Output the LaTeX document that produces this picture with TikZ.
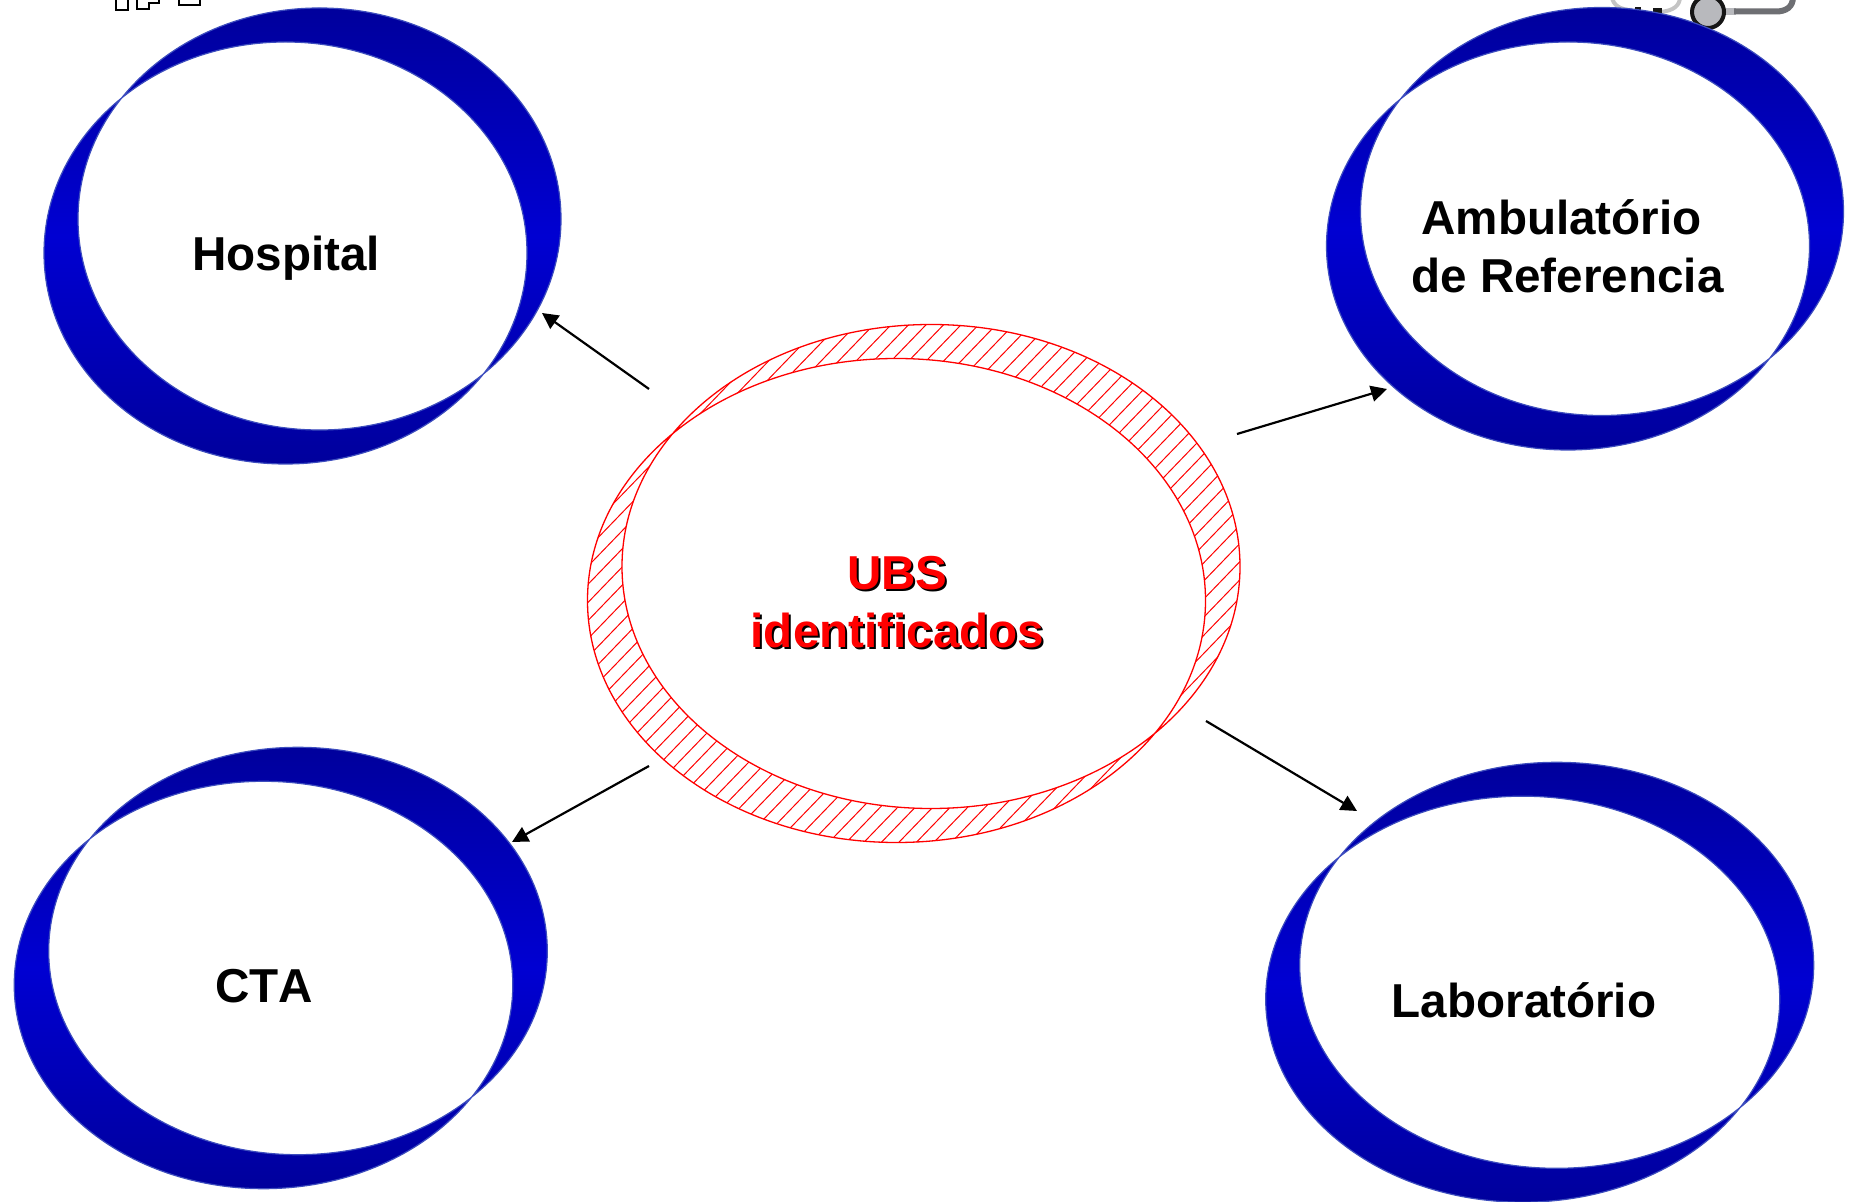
\documentclass[tikz,border=0pt]{standalone}
\usepackage{fontspec}
\setmainfont[Kerning=Off]{Liberation Sans}
\usetikzlibrary{arrows.meta}
\definecolor{ringdark}{HTML}{00009C}
\definecolor{ringmid}{HTML}{0000D2}
\definecolor{ringedge}{HTML}{3D4DBE}
\definecolor{stethgrey}{HTML}{B8B9BD}
\definecolor{tubegrey}{HTML}{6E6F73}
\definecolor{lightgrey}{HTML}{C4C4C4}
\definecolor{stethblack}{HTML}{161616}
\tikzset{
  label text/.style={font=\bfseries\fontsize{23.8pt}{29pt}\selectfont, text=black, anchor=base, inner sep=0pt, align=center},
  ubs text/.style={label text, text=red},
  ubs shadow/.style={label text, text=black},
  link/.style={draw=black, line width=1.1pt, -{Triangle[length=8pt,width=8pt]}},
  ring edge/.style={draw=ringedge, line width=0.6pt},
  ring fill/.style={top color=ringdark, bottom color=ringdark, middle color=ringmid, even odd rule, shading angle=0},
  hatch line/.style={draw=red, line width=0.5pt},
  hatch edge/.style={draw=red, line width=0.65pt},
  frag/.style={draw=black, line width=1pt, fill=white}
}
\newcommand{\bluering}[6]{%
  \shade[ring fill] (#1,#2) ellipse [x radius=#5, y radius=#6] (#3,#4) ellipse [x radius=#5, y radius=#6];
  \draw[ring edge] (#1,#2) ellipse [x radius=#5, y radius=#6] (#3,#4) ellipse [x radius=#5, y radius=#6];
}
\begin{document}
\begin{tikzpicture}[x=0.5pt,y=-0.5pt]
\useasboundingbox (0,0) rectangle (1853,1202);
\clip (0,0) rectangle (1853,1202);
% fragments at the top edge
\draw[frag] (116,-3) -- (116,10) -- (128,10) -- (128,-3);
\draw[frag] (137,-3) -- (137,9) -- (148.5,9) -- (148.5,3) -- (159,3) -- (159,-3);
\draw[frag] (179,-3) -- (179,5) -- (200,5) -- (200,-3);
% stethoscope fragment
\draw[lightgrey, line width=2pt] (1612,-3) .. controls (1613,5) and (1620,10) .. (1632,10);
\draw[lightgrey, line width=2pt] (1680,-3) .. controls (1680,5) and (1674,11) .. (1660,12);
\fill[stethblack] (1635,7) rectangle (1641,12);
\fill[stethblack] (1653,8) rectangle (1662,14);
\fill[stethgrey] (1725,8) rectangle (1736,15);
\draw[tubegrey, line width=3pt] (1734,11.5) -- (1776,11.5) .. controls (1786,11.5) and (1793,7) .. (1793,-3);
\draw[stethblack, line width=2pt, fill=stethgrey] (1708,12) circle (16);
% rings
\bluering{319.5}{219}{285.5}{253}{241.5}{211}
\bluering{1602}{211.5}{1568}{246}{241.5}{204}
\bluering{298}{951}{263.5}{985}{249.3}{203.7}
\bluering{1556.7}{965.3}{1522.7}{999.2}{257}{203}
% hatched centre ring
\begin{scope}
  \clip (931,566.5) ellipse [x radius=309, y radius=242];
  \foreach \k in {0,...,90} {
    \draw[hatch line] ({250+\k*17.5-280},{590+290}) -- ({250+\k*17.5+280},{590-290});
  }
\end{scope}
\begin{scope}
  \clip (896.5,600.5) ellipse [x radius=309, y radius=242];
  \foreach \k in {0,...,90} {
    \draw[hatch line] ({250+\k*17.5-280},{590+290}) -- ({250+\k*17.5+280},{590-290});
  }
\end{scope}
\begin{scope}
  \clip (931,566.5) ellipse [x radius=309, y radius=242];
  \fill[white] (896.5,600.5) ellipse [x radius=309, y radius=242];
\end{scope}
\draw[hatch edge] (931,566.5) ellipse [x radius=309, y radius=242] (896.5,600.5) ellipse [x radius=309, y radius=242];
% labels
\node[label text] (hospital) at (286,270.7) {Hospital};
\node[label text] (ambulatorio) at (1567.5,293) {\mbox{Ambulatório\hspace{6pt}}\\de Referencia};
\node[label text] (cta) at (264,1002.5) {CTA};
\node[label text] (laboratorio) at (1524,1017) {Laboratório};
\node[ubs shadow] (ubsshadow) at (899.5,649.5) {UBS\\identificados};
\node[ubs text] (ubs) at (897.5,647.5) {UBS\\identificados};
% connector ends
\coordinate (hfrom) at (649,389);
\coordinate (hto) at (542,313);
\coordinate (afrom) at (1237,434);
\coordinate (ato) at (1387,389);
\coordinate (lfrom) at (1206,721);
\coordinate (lto) at (1357,811);
\coordinate (cfrom) at (649,766);
\coordinate (cto) at (512,842);
\draw[link] (hfrom) -- (hto);
\draw[link] (afrom) -- (ato);
\draw[link] (lfrom) -- (lto);
\draw[link] (cfrom) -- (cto);
\end{tikzpicture}
\end{document}
